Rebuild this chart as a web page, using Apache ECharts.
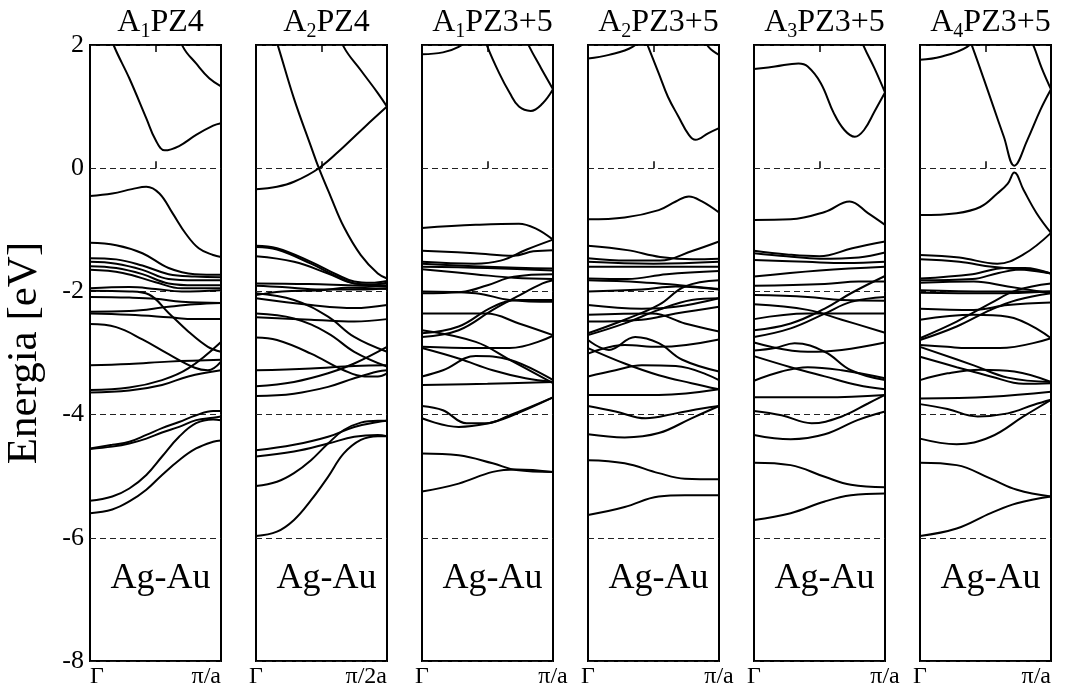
<!DOCTYPE html>
<html><head><meta charset="utf-8">
<script src="https://cdn.jsdelivr.net/npm/echarts@6/dist/echarts.min.js"></script>
<style>html,body{margin:0;padding:0;background:#fff}#c{width:1076px;height:689px}</style>
</head><body><div id="c"></div>
<script>
// ---- data ----
const panelTitles = [['A','1','PZ4'],['A','2','PZ4'],['A','1','PZ3+5'],['A','2','PZ3+5'],['A','3','PZ3+5'],['A','4','PZ3+5']];
const kStartLabels = ['Γ','Γ','Γ','Γ','Γ','Γ'];
const kEndLabels = ['π/a','π/2a','π/a','π/a','π/a','π/a'];
const systemLabel = 'Ag-Au';
const yAxisTitle = 'Energia [eV]';

const bandsP1 = [
 [[0.1,2.5],[0.18,2.0],[0.3,1.46],[0.43,0.81],[0.5,0.46],[0.57,0.29],[0.68,0.36],[0.81,0.54],[0.94,0.69],[1,0.73]],
 [[0.62,2.5],[0.71,1.97],[0.81,1.70],[0.91,1.46],[1,1.33]],
 [[0,-0.45],[0.17,-0.41],[0.32,-0.34],[0.43,-0.30],[0.53,-0.41],[0.63,-0.73],[0.73,-1.06],[0.83,-1.30],[0.94,-1.41],[1,-1.44]],
 [[0,-1.21],[0.2,-1.25],[0.4,-1.38],[0.6,-1.62],[0.8,-1.72],[1,-1.73]],
 [[0,-1.46],[0.2,-1.48],[0.4,-1.58],[0.6,-1.72],[0.8,-1.76],[1,-1.77]],
 [[0,-1.52],[0.2,-1.55],[0.4,-1.65],[0.6,-1.80],[0.8,-1.82],[1,-1.82]],
 [[0,-1.59],[0.2,-1.62],[0.4,-1.72],[0.6,-1.87],[0.8,-1.90],[1,-1.90]],
 [[0,-1.65],[0.25,-1.70],[0.5,-1.85],[0.7,-1.95],[1,-1.95]],
 [[0,-1.95],[0.3,-1.93],[0.5,-1.96],[0.7,-2.0],[1,-1.98]],
 [[0,-1.99],[0.3,-2.0],[0.45,-2.05],[0.6,-2.35],[0.75,-2.65],[0.9,-2.9],[1,-2.98]],
 [[0,-2.09],[0.3,-2.1],[0.5,-2.12],[0.7,-2.17],[1,-2.19]],
 [[0,-2.33],[0.3,-2.32],[0.6,-2.25],[0.8,-2.21],[1,-2.19]],
 [[0,-2.36],[0.3,-2.38],[0.6,-2.42],[0.8,-2.45],[1,-2.45]],
 [[0,-2.53],[0.2,-2.58],[0.4,-2.78],[0.6,-3.02],[0.8,-3.24],[0.9,-3.28],[1,-3.14]],
 [[0,-3.20],[0.3,-3.18],[0.6,-3.14],[1,-3.11]],
 [[0,-3.60],[0.3,-3.56],[0.55,-3.44],[0.75,-3.25],[1,-2.82]],
 [[0,-3.64],[0.3,-3.61],[0.55,-3.52],[0.75,-3.38],[1,-3.28]],
 [[0,-4.55],[0.17,-4.49],[0.3,-4.44],[0.43,-4.33],[0.55,-4.22],[0.68,-4.12],[0.81,-4.01],[0.94,-3.94],[1,-3.94]],
 [[0,-4.56],[0.17,-4.52],[0.3,-4.47],[0.43,-4.39],[0.55,-4.29],[0.68,-4.20],[0.81,-4.09],[0.94,-4.05],[1,-4.03]],
 [[0,-5.40],[0.17,-5.33],[0.3,-5.20],[0.43,-4.98],[0.55,-4.68],[0.68,-4.36],[0.81,-4.14],[0.94,-4.08],[1,-4.09]],
 [[0,-5.60],[0.17,-5.54],[0.3,-5.41],[0.43,-5.22],[0.55,-4.98],[0.68,-4.74],[0.81,-4.55],[0.94,-4.44],[1,-4.42]]
];
const bandsP2 = [
 [[0.12,2.3],[0.17,1.97],[0.29,1.13],[0.42,0.35],[0.48,0],[0.57,-0.46],[0.67,-0.95],[0.8,-1.41],[0.93,-1.71],[1,-1.79]],
 [[0.6,2.4],[0.67,1.97],[0.8,1.59],[0.93,1.22],[1,1.0]],
 [[0,-0.34],[0.16,-0.30],[0.29,-0.22],[0.48,0],[0.67,0.35],[0.83,0.67],[1,1.0]],
 [[0,-1.26],[0.16,-1.30],[0.42,-1.52],[0.62,-1.73],[0.75,-1.84],[0.88,-1.86],[1,-1.83]],
 [[0,-1.28],[0.16,-1.32],[0.42,-1.55],[0.62,-1.76],[0.75,-1.87],[0.88,-1.89],[1,-1.86]],
 [[0,-1.43],[0.29,-1.52],[0.55,-1.71],[0.75,-1.87],[1,-1.90]],
 [[0,-1.87],[0.4,-1.88],[0.7,-1.90],[1,-1.92]],
 [[0,-1.91],[0.2,-1.93],[0.5,-1.97],[0.8,-1.97],[1,-1.95]],
 [[0,-2.03],[0.29,-2.14],[0.55,-2.41],[0.75,-2.74],[1,-2.98]],
 [[0,-2.06],[0.2,-2.0],[0.5,-1.98],[0.7,-1.94],[1,-1.96]],
 [[0,-2.11],[0.42,-2.22],[0.75,-2.27],[1,-2.22]],
 [[0,-2.36],[0.29,-2.44],[0.55,-2.68],[0.75,-2.98],[1,-3.22]],
 [[0,-2.42],[0.42,-2.46],[0.75,-2.49],[1,-2.45]],
 [[0,-2.75],[0.16,-2.79],[0.42,-3.01],[0.67,-3.28],[0.83,-3.38],[0.93,-3.38],[1,-3.33]],
 [[0,-3.28],[0.42,-3.25],[0.75,-3.21],[1,-3.20]],
 [[0,-3.54],[0.29,-3.47],[0.55,-3.33],[0.75,-3.17],[1,-2.90]],
 [[0,-3.70],[0.29,-3.66],[0.55,-3.55],[0.75,-3.41],[0.93,-3.30],[1,-3.28]],
 [[0,-4.58],[0.29,-4.49],[0.55,-4.36],[0.75,-4.20],[0.93,-4.12],[1,-4.10]],
 [[0,-4.68],[0.29,-4.60],[0.55,-4.47],[0.75,-4.36],[0.93,-4.33],[1,-4.35]],
 [[0,-5.16],[0.16,-5.09],[0.29,-4.95],[0.42,-4.74],[0.55,-4.47],[0.67,-4.25],[0.8,-4.13],[0.93,-4.10],[1,-4.10]],
 [[0,-5.97],[0.16,-5.90],[0.29,-5.71],[0.42,-5.39],[0.55,-5.01],[0.67,-4.63],[0.8,-4.41],[0.93,-4.35],[1,-4.35]]
];
const bandsP3 = [
 [[0,1.85],[0.16,1.88],[0.28,1.97],[0.4,2.15]],
 [[0.45,2.3],[0.5,1.97],[0.59,1.54],[0.67,1.22],[0.74,1.0],[0.83,0.93],[0.92,1.05],[1,1.28]],
 [[0.75,2.3],[0.82,1.97],[0.91,1.62],[1,1.28]],
 [[0,-0.97],[0.41,-0.92],[0.74,-0.90],[0.87,-0.98],[1,-1.16]],
 [[0,-1.34],[0.4,-1.38],[0.7,-1.42],[0.85,-1.35],[1,-1.33]],
 [[0,-1.52],[0.4,-1.55],[0.6,-1.5],[0.8,-1.32],[1,-1.16]],
 [[0,-1.55],[0.5,-1.6],[1,-1.63]],
 [[0,-1.6],[0.5,-1.62],[1,-1.66]],
 [[0,-1.64],[0.4,-1.72],[0.7,-1.78],[1,-1.8]],
 [[0,-2.0],[0.41,-2.03],[0.67,-2.14],[1,-2.17]],
 [[0,-2.03],[0.3,-2.01],[0.5,-1.9],[0.7,-1.76],[1,-1.72]],
 [[0,-2.36],[0.49,-2.36],[0.74,-2.52],[1,-2.71]],
 [[0,-2.63],[0.41,-2.82],[0.67,-3.11],[1,-3.49]],
 [[0,-2.68],[0.28,-2.57],[0.54,-2.25],[0.74,-2.14],[1,-2.14]],
 [[0,-2.74],[0.28,-2.63],[0.54,-2.30],[0.72,-2.09],[0.92,-1.87],[1,-1.82]],
 [[0,-2.90],[0.41,-2.92],[0.67,-2.92],[1,-2.72]],
 [[0,-2.92],[0.28,-3.09],[0.54,-3.28],[0.79,-3.41],[1,-3.47]],
 [[0,-3.38],[0.16,-3.28],[0.41,-3.05],[0.67,-3.11],[1,-3.44]],
 [[0,-3.52],[0.5,-3.50],[1,-3.47]],
 [[0,-3.86],[0.16,-3.93],[0.34,-4.14],[0.49,-4.14],[0.67,-4.01],[1,-3.72]],
 [[0,-4.06],[0.28,-4.20],[0.49,-4.15],[0.67,-4.03],[1,-3.72]],
 [[0,-4.63],[0.28,-4.66],[0.54,-4.79],[0.72,-4.90],[1,-4.93]],
 [[0,-5.25],[0.28,-5.12],[0.54,-4.93],[0.72,-4.89],[1,-4.93]]
];
const bandsP4 = [
 [[0,1.78],[0.16,1.84],[0.34,1.97],[0.45,2.2]],
 [[0.4,2.3],[0.46,1.97],[0.54,1.54],[0.61,1.16],[0.69,0.84],[0.77,0.54],[0.82,0.46],[0.92,0.57],[1,0.65]],
 [[0.86,2.2],[0.92,1.97],[1,1.84]],
 [[0,-0.83],[0.28,-0.80],[0.54,-0.68],[0.67,-0.54],[0.77,-0.46],[0.87,-0.54],[1,-0.72]],
 [[0,-1.26],[0.3,-1.33],[0.55,-1.44],[0.8,-1.48],[1,-1.47]],
 [[0,-1.46],[0.3,-1.5],[0.55,-1.5],[0.8,-1.34],[1,-1.19]],
 [[0,-1.52],[0.5,-1.55],[1,-1.52]],
 [[0,-1.6],[0.5,-1.6],[1,-1.6]],
 [[0,-1.79],[0.3,-1.8],[0.6,-1.72],[1,-1.67]],
 [[0,-1.82],[0.4,-1.85],[0.7,-1.9],[1,-1.96]],
 [[0,-2.0],[0.41,-1.97],[0.67,-1.92],[1,-1.97]],
 [[0,-2.22],[0.41,-2.28],[0.67,-2.25],[1,-2.11]],
 [[0,-2.38],[0.49,-2.36],[0.74,-2.52],[1,-2.65]],
 [[0,-2.49],[0.41,-2.46],[0.67,-2.36],[1,-2.25]],
 [[0,-2.68],[0.28,-2.46],[0.54,-2.22],[0.74,-1.92],[1,-1.82]],
 [[0,-2.71],[0.28,-2.52],[0.54,-2.30],[0.79,-2.14],[1,-2.11]],
 [[0,-2.79],[0.16,-2.95],[0.36,-2.74],[0.54,-2.84],[0.72,-3.11],[1,-3.30]],
 [[0,-3.01],[0.28,-2.87],[0.54,-2.90],[1,-2.78]],
 [[0,-2.92],[0.28,-3.17],[0.54,-3.36],[0.79,-3.49],[1,-3.59]],
 [[0,-3.38],[0.21,-3.28],[0.41,-3.20],[0.67,-3.21],[1,-3.44]],
 [[0,-3.68],[0.54,-3.68],[1,-3.59]],
 [[0,-3.86],[0.21,-3.95],[0.44,-4.06],[0.67,-3.98],[0.87,-3.90],[1,-3.86]],
 [[0,-4.32],[0.28,-4.37],[0.54,-4.30],[0.79,-4.06],[1,-3.86]],
 [[0,-4.74],[0.28,-4.79],[0.54,-4.95],[0.74,-5.04],[1,-5.05]],
 [[0,-5.63],[0.28,-5.50],[0.54,-5.33],[0.74,-5.31],[1,-5.31]]
];
const bandsP5 = [
 [[0,1.61],[0.16,1.65],[0.34,1.70],[0.41,1.65],[0.51,1.38],[0.61,0.89],[0.69,0.62],[0.77,0.51],[0.84,0.62],[0.92,0.92],[1,1.23]],
 [[0.78,2.3],[0.84,1.97],[0.92,1.62],[1,1.23]],
 [[0,-0.84],[0.28,-0.83],[0.54,-0.71],[0.73,-0.54],[0.87,-0.73],[1,-0.92]],
 [[0,-1.34],[0.25,-1.4],[0.5,-1.43],[0.75,-1.3],[1,-1.19]],
 [[0,-1.38],[0.25,-1.43],[0.5,-1.47],[0.8,-1.45],[1,-1.37]],
 [[0,-1.49],[0.4,-1.52],[0.7,-1.54],[1,-1.52]],
 [[0,-1.76],[0.5,-1.66],[1,-1.6]],
 [[0,-1.91],[0.54,-1.88],[0.8,-1.84],[1,-1.84]],
 [[0,-2.06],[0.41,-2.09],[0.67,-2.14],[1,-2.15]],
 [[0,-2.21],[0.41,-2.30],[0.67,-2.46],[1,-2.67]],
 [[0,-2.45],[0.41,-2.36],[0.67,-2.36],[1,-2.36]],
 [[0,-2.63],[0.28,-2.52],[0.54,-2.28],[0.74,-2.03],[1,-1.75]],
 [[0,-2.74],[0.28,-2.60],[0.54,-2.36],[0.74,-2.17],[1,-2.09]],
 [[0,-2.83],[0.41,-2.98],[0.67,-2.95],[1,-2.83]],
 [[0,-2.96],[0.16,-2.92],[0.31,-2.84],[0.54,-2.98],[0.74,-3.28],[1,-3.44]],
 [[0,-3.05],[0.28,-3.23],[0.54,-3.38],[0.79,-3.52],[1,-3.59]],
 [[0,-3.45],[0.21,-3.30],[0.41,-3.23],[0.67,-3.28],[1,-3.41]],
 [[0,-3.72],[0.54,-3.72],[1,-3.68]],
 [[0,-3.94],[0.21,-4.01],[0.44,-4.14],[0.67,-4.03],[0.87,-3.82],[1,-3.68]],
 [[0,-4.33],[0.28,-4.40],[0.54,-4.32],[0.79,-4.09],[1,-3.95]],
 [[0,-4.78],[0.28,-4.82],[0.54,-5.01],[0.74,-5.14],[1,-5.18]],
 [[0,-5.71],[0.28,-5.60],[0.54,-5.41],[0.74,-5.31],[1,-5.28]]
];
const bandsP6 = [
 [[0,1.76],[0.16,1.81],[0.36,1.97],[0.45,2.2]],
 [[0.34,2.3],[0.4,1.97],[0.49,1.43],[0.56,1.0],[0.64,0.51],[0.72,0.04],[0.82,0.46],[0.92,0.95],[1,1.28]],
 [[0.8,2.3],[0.87,1.97],[0.93,1.62],[1,1.28]],
 [[0,-0.76],[0.28,-0.73],[0.46,-0.63],[0.59,-0.41],[0.67,-0.25],[0.72,-0.07],[0.79,-0.35],[0.89,-0.73],[1,-1.05]],
 [[0,-1.41],[0.3,-1.45],[0.59,-1.55],[0.79,-1.40],[1,-1.05]],
 [[0,-1.48],[0.3,-1.52],[0.55,-1.6],[0.8,-1.65],[1,-1.71]],
 [[0,-1.79],[0.4,-1.72],[0.65,-1.62],[0.8,-1.62],[1,-1.71]],
 [[0,-1.82],[0.4,-1.8],[0.6,-1.7],[0.8,-1.64],[1,-1.71]],
 [[0,-1.86],[0.41,-1.84],[0.67,-1.92],[1,-2.03]],
 [[0,-1.98],[0.54,-2.0],[1,-2.0]],
 [[0,-2.02],[0.54,-2.03],[1,-2.0]],
 [[0,-2.28],[0.41,-2.30],[0.67,-2.22],[1,-2.18]],
 [[0,-2.46],[0.41,-2.38],[0.67,-2.41],[1,-2.76]],
 [[0,-2.76],[0.28,-2.49],[0.54,-2.19],[0.74,-1.98],[1,-1.87]],
 [[0,-2.79],[0.28,-2.57],[0.54,-2.30],[0.74,-2.14],[1,-2.03]],
 [[0,-2.87],[0.21,-2.90],[0.36,-2.92],[0.61,-2.92],[1,-2.76]],
 [[0,-2.90],[0.41,-3.20],[0.67,-3.40],[1,-3.47]],
 [[0,-3.06],[0.28,-3.23],[0.54,-3.38],[0.79,-3.50],[1,-3.49]],
 [[0,-3.44],[0.21,-3.33],[0.46,-3.27],[0.72,-3.30],[1,-3.47]],
 [[0,-3.74],[0.54,-3.71],[1,-3.63]],
 [[0,-3.83],[0.21,-3.91],[0.44,-4.03],[0.67,-3.98],[0.87,-3.84],[1,-3.76]],
 [[0,-4.39],[0.28,-4.48],[0.54,-4.36],[0.79,-4.03],[1,-3.76]],
 [[0,-4.78],[0.28,-4.82],[0.54,-5.04],[0.74,-5.22],[1,-5.33]],
 [[0,-5.97],[0.28,-5.85],[0.54,-5.60],[0.74,-5.44],[1,-5.33]]
];
const allBands = [bandsP1, bandsP2, bandsP3, bandsP4, bandsP5, bandsP6];

// ---- layout ----
const FONT = 'Liberation Serif';
const L0 = 90, STEP = 166, W = 131, TOP = 45, H = 616;
const minAlign = ['left','center','center','center','center','center'];
const maxAlign = ['right','right','center','center','center','right'];

const grids = [], xAxes = [], yAxes = [], series = [], titles = [];
allBands.forEach((bands, i) => {
  const left = L0 + i * STEP;
  grids.push({left: left, top: TOP, width: W, height: H, show: true,
    borderColor: '#000', borderWidth: 2, backgroundColor: 'transparent'});
  const tick = {show: true, inside: true, length: 7, lineStyle: {color: '#000', width: 1.5}};
  xAxes.push({gridIndex: i, type: 'value', min: 0, max: 1, interval: 0.5, position: 'bottom',
    axisLine: {show: false}, axisTick: tick, splitLine: {show: false},
    axisLabel: {show: true, color: '#000', fontFamily: FONT, fontSize: 24, margin: 4,
      alignMinLabel: minAlign[i], alignMaxLabel: maxAlign[i],
      formatter: v => v === 0 ? kStartLabels[i] : (v === 1 ? kEndLabels[i] : '')}});
  xAxes.push({gridIndex: i, type: 'value', min: 0, max: 1, interval: 0.5, position: 'top',
    axisLine: {show: false}, axisTick: tick, splitLine: {show: false}, axisLabel: {show: false}});
  yAxes.push({gridIndex: i, type: 'value', min: -8, max: 2, interval: 2,
    axisLine: {show: false}, axisTick: {show: false},
    axisLabel: {show: i === 0, color: '#000', fontFamily: FONT, fontSize: 26, margin: 6},
    splitLine: {show: true, lineStyle: {type: [6, 4], color: '#222', width: 1}},
    name: i === 0 ? yAxisTitle : '', nameLocation: 'middle', nameRotate: 90, nameGap: 44,
    nameTextStyle: {color: '#000', fontFamily: FONT, fontSize: 43}});
  bands.forEach(b => series.push({type: 'line', xAxisIndex: 2 * i, yAxisIndex: i, data: b,
    smooth: 0.4, showSymbol: false, symbol: 'none', clip: true, silent: true,
    lineStyle: {color: '#000', width: 2}, z: 3}));
  const t = panelTitles[i];
  titles.push({text: '{a|' + t[0] + '}{s|' + t[1] + '}{a|' + t[2] + '}',
    left: left + W / 2, top: -1, textAlign: 'center',
    textStyle: {fontWeight: 'normal', rich: {
      a: {fontFamily: FONT, fontSize: 32, fontWeight: 'normal', color: '#000', lineHeight: 38},
      s: {fontFamily: FONT, fontSize: 20, fontWeight: 'normal', color: '#000', lineHeight: 14, verticalAlign: 'bottom'}}}});
  titles.push({text: systemLabel, left: left + W / 2, top: 556, textAlign: 'center',
    textStyle: {fontFamily: FONT, fontSize: 36, fontWeight: 'normal', color: '#000'}});
});

const chart = echarts.init(document.getElementById('c'), null, {renderer: 'canvas'});
chart.setOption({animation: false, backgroundColor: '#fff', title: titles,
  grid: grids, xAxis: xAxes, yAxis: yAxes, series: series});
</script></body></html>
